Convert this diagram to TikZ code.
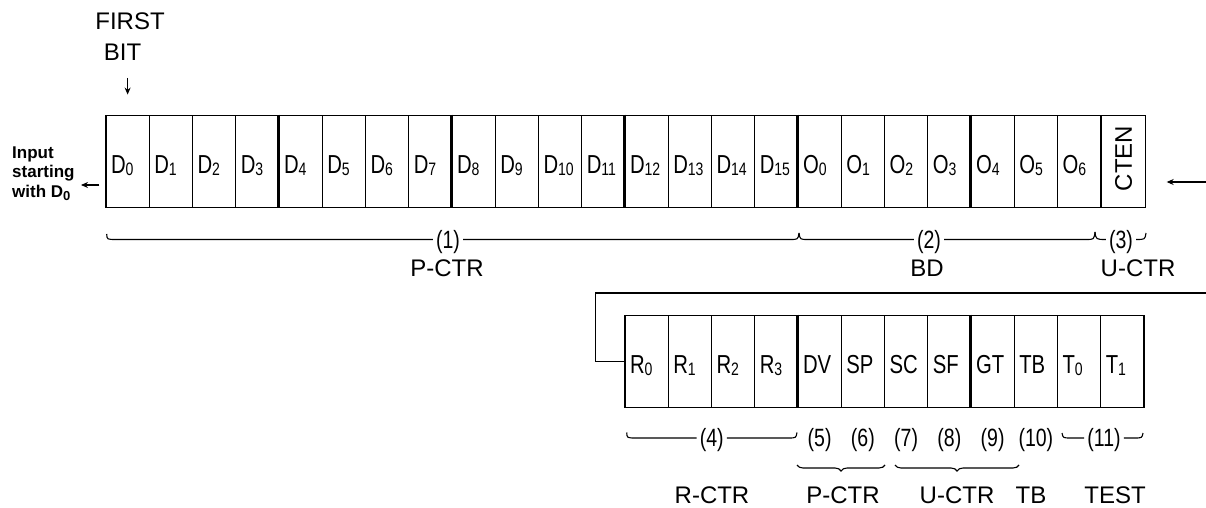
\documentclass[tikz,border=0pt]{standalone}
\usepackage{fontspec}
\setmainfont{Liberation Sans}
\newfontfamily\cellfont[FakeStretch=0.78]{Liberation Sans}
\usetikzlibrary{arrows.meta, positioning, decorations.pathreplacing, calc}
\newcommand\sbs[1]{\raisebox{-1.5pt}{\fontsize{18}{18}\selectfont#1}}

\begin{document}
\begin{tikzpicture}[
    x=1pt, y=-1pt,
    cell/.style={draw,line width=1.1pt,minimum width=43.25pt,minimum height=92.5pt,inner xsep=5pt,inner ysep=0pt,text width=33.25pt,align=left,text height=25pt,text depth=0pt,font=\cellfont\fontsize{26}{30}\selectfont},
    thicksep/.style={line width=2.2pt},
    fieldno/.style={inner xsep=3pt,inner ysep=0pt,text height=17.8pt,text depth=0pt,font=\cellfont\fontsize{25}{28}\selectfont},
    caption/.style={inner sep=0pt,font=\fontsize{24}{27}\selectfont},
    bline/.style={line width=1.1pt},
    arr/.style={line width=1.1pt,-{Stealth[length=7pt,width=6pt]}}
  ]
    \useasboundingbox (0,0) rectangle (1206,508);

    % serial register, first word
    \foreach \nm/\txt [count=\i from 0] in {d0/D\sbs{0},d1/D\sbs{1},d2/D\sbs{2},d3/D\sbs{3},d4/D\sbs{4},d5/D\sbs{5},d6/D\sbs{6},d7/D\sbs{7},d8/D\sbs{8},d9/D\sbs{9},d10/D\sbs{10},d11/D\sbs{11},d12/D\sbs{12},d13/D\sbs{13},d14/D\sbs{14},d15/D\sbs{15},o0/O\sbs{0},o1/O\sbs{1},o2/O\sbs{2},o3/O\sbs{3},o4/O\sbs{4},o5/O\sbs{5},o6/O\sbs{6}}
      \node[cell] (\nm) at ({127.625+43.25*\i},161.35) {\txt};
    \node[cell, right=0pt of o6] (cten) {};
    \node[rotate=90,font=\fontsize{24}{27}\selectfont] at ([yshift=3pt]cten.center) {CTEN};

    % serial register, second word
    \foreach \nm/\txt [count=\i from 0] in {r0/R\sbs{0},r1/R\sbs{1},r2/R\sbs{2},r3/R\sbs{3},dv/DV,sp/SP,sc/SC,sf/SF,gt/GT,tb/TB,tz/T\sbs{0},tone/T\sbs{1}}
      \node[cell] (\nm) at ({646.625+43.25*\i},361.4) {\txt};

    \foreach \k in {d4,d8,d12,o0,o4,dv,gt}
      \draw[thicksep] (\k.north west) -- (\k.south west);

    % first bit and data flow
    \node[caption] (first) at (130,21.7) {FIRST};
    \node[caption] (bit) at (122.5,52.5) {BIT};
    \draw[arr, shorten <=17pt, shorten >=20pt] (bit.south -| d0.north) -- (d0.north);

    \node[anchor=north west,inner sep=0pt,align=left,font=\bfseries\fontsize{17}{19.5}\selectfont] (input) at (12,146.6) {Input\\starting\\with D\raisebox{-3pt}{\fontsize{13}{13}\selectfont 0}};
    \coordinate (inpt) at (81,185);
    \draw[arr, shorten <=6pt] (inpt -| d0.west) -- (inpt);

    \coordinate (outpt) at (1206,182);
    \draw[arr, shorten >=21pt] (outpt) -- (outpt -| cten.east);

    \coordinate (fbin) at (1206,293);
    \draw[bline] (fbin) -| ([xshift=-29pt]r0.west) -- (r0.west);

    % fields of the first word
    \node[fieldno] (n1) at (448,239.5) {(1)};
    \node[fieldno] (n2) at (929,239.5) {(2)};
    \node[fieldno] (n3) at (1121,239.5) {(3)};
    \draw[bline] (106.7,234) .. controls (107,239.5) .. (116,239.5) -- (n1.west);
    \draw[bline] (n1.east) -- (790,239.5) .. controls (798,239.5) .. (799,233);
    \draw[bline] (799,233) .. controls (800,239.5) .. (808,239.5) -- (n2.west);
    \draw[bline] (n2.east) -- (1086,239.5) .. controls (1094,239.5) .. (1095,232);
    \draw[bline] (1095,232) .. controls (1096,239.5) .. (n3.west);
    \draw[bline] (n3.east) .. controls (1145,239.5) .. (1146,233);
    \node[caption] at (447,268) {P-CTR};
    \node[caption] at (927,268) {BD};
    \node[caption] at (1138,268) {U-CTR};

    % fields of the second word
    \node[fieldno] (n4) at (711.7,438) {(4)};
    \node[fieldno] (n5) at (dv.center |- 0,438) {(5)};
    \node[fieldno] (n6) at (sp.center |- 0,438) {(6)};
    \node[fieldno] (n7) at (sc.center |- 0,438) {(7)};
    \node[fieldno] (n8) at (sf.center |- 0,438) {(8)};
    \node[fieldno] (n9) at (gt.center |- 0,438) {(9)};
    \node[fieldno] (n10) at (tb.center |- 0,438) {(10)};
    \node[fieldno] (n11) at (1104,438) {(11)};
    \draw[bline] (626.7,432.5) .. controls (627,438) .. (636,438) -- (n4.west);
    \draw[bline] (n4.east) -- (788,438) .. controls (796,438) .. (797,432.5);
    \draw[bline] (1062,433) .. controls (1063,438) .. (1071,438) -- (n11.west);
    \draw[bline] (n11.east) -- (1134,438) .. controls (1142,438) .. (1143,433);
    \draw[bline, decorate, decoration={brace,mirror,amplitude=6pt}] (797,465) -- (885,465);
    \draw[bline, decorate, decoration={brace,mirror,amplitude=6pt}] (895,465) -- (1019,465);
    \node[caption] at (712,495) {R-CTR};
    \node[caption] at (843,495) {P-CTR};
    \node[caption] at (957,495) {U-CTR};
    \node[caption] at (1031,495) {TB};
    \node[caption] at (1115,495) {TEST};
\end{tikzpicture}
\end{document}
